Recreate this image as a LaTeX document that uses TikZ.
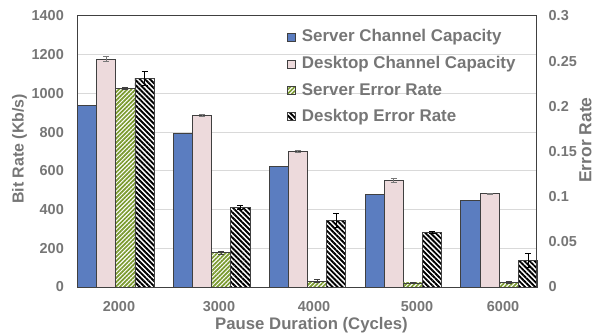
\documentclass[tikz,border=0pt]{standalone}
\usepackage{fontspec}
\setmainfont{Liberation Sans}
\usetikzlibrary{patterns.meta}
\definecolor{cblue}{RGB}{91,125,192}
\definecolor{cpink}{RGB}{237,218,220}
\definecolor{cgreen}{RGB}{122,154,46}
\definecolor{ctxt}{RGB}{118,118,118}
\definecolor{cgrid}{RGB}{217,217,217}
\definecolor{cframe}{RGB}{64,64,64}
\definecolor{cerr}{RGB}{120,120,120}
\tikzset{
  bluebar/.style={draw=cframe, line width=0.7bp, fill=cblue},
  pinkbar/.style={draw=cframe, line width=0.7bp, fill=cpink},
  greenbar/.style={draw=cframe, line width=0.7bp, preaction={fill=white},
    pattern={Lines[angle=45,distance=3pt,line width=1.7pt]}, pattern color=cgreen},
  blackbar/.style={draw=cframe, line width=0.7bp, preaction={fill=white},
    pattern={Lines[angle=-45,distance=3.6pt,line width=1.9pt]}, pattern color=black},
  errbar/.style={line width=0.8bp},
  ticklab/.style={text=ctxt, font=\bfseries\fontsize{14.5}{14.5}\selectfont, inner sep=0pt},
  titlelab/.style={text=ctxt, font=\bfseries\fontsize{16.8}{16.8}\selectfont, inner sep=0pt},
  leglab/.style={text=ctxt, font=\bfseries\fontsize{17}{17}\selectfont, inner sep=0pt, anchor=west},
  gridline/.style={draw=cgrid, line width=1bp},
}
\begin{document}
\begin{tikzpicture}[x=1bp,y=1bp]
\useasboundingbox (0,0) rectangle (597,335);
% grid
\foreach \k in {1,...,6} {
  \draw[gridline] (77.3,{48+\k*38.714}) -- (536.7,{48+\k*38.714});
}
% bars
\begin{scope}[shift={(0,48)}, y=0.193571bp]
\foreach \i/\b/\p/\pe/\g/\ge/\k/\ke in {
  0/940/1178/13/1026/6/1078/37,
  1/794/887/6/177/8/412/12,
  2/625/699/6/31/6/346/36,
  3/480/551/12/21/4/282/6,
  4/449/482/4/24/3/138/36} {
  \pgfmathsetmacro\s{77.3+95.85*\i}
  \pgfmathsetmacro\xp{\s+28.8}
  \pgfmathsetmacro\xg{\s+48}
  \pgfmathsetmacro\xk{\s+67.2}
  \draw[bluebar] (\s,0) rectangle ++(19.2,\b);
  \draw[pinkbar] (\s+19.2,0) rectangle ++(19.2,\p);
  \draw[greenbar] (\s+38.4,0) rectangle ++(19.2,\g);
  \draw[blackbar] (\s+57.6,0) rectangle ++(19.2,\k);
  \draw[errbar, cerr] (\xp,\p-\pe) -- (\xp,\p+\pe) (\xp-3,\p-\pe) -- (\xp+3,\p-\pe) (\xp-3,\p+\pe) -- (\xp+3,\p+\pe);
  \draw[errbar, cframe] (\xg,\g-\ge) -- (\xg,\g+\ge) (\xg-3,\g-\ge) -- (\xg+3,\g-\ge) (\xg-3,\g+\ge) -- (\xg+3,\g+\ge);
  \draw[errbar, black] (\xk,\k-\ke) -- (\xk,\k+\ke) (\xk-3,\k-\ke) -- (\xk+3,\k-\ke) (\xk-3,\k+\ke) -- (\xk+3,\k+\ke);
}
\end{scope}
% frame
\draw[cframe, line width=1bp] (77.3,48) rectangle (536.7,319);
% left ticks
\foreach \v [count=\n from 0] in {0,200,400,600,800,1000,1200,1400} {
  \node[ticklab, anchor=east] (l\n) at (64,{48+\n*38.714}) {\v};
}
% right ticks
\foreach \v [count=\n from 0] in {0,0.05,0.1,0.15,0.2,0.25,0.3} {
  \node[ticklab, anchor=west] (r\n) at (548.5,{48+\n*45.167}) {\v};
}
% category labels
\foreach \x/\v in {119/2000,219/3000,314/4000,417/5000,503/6000} {
  \node[ticklab] (c\v) at (\x,28) {\v};
}
% axis titles
\node[titlelab] (xt) at (311.5,9.7) {Pause Duration (Cycles)};
\node[titlelab, font=\bfseries\fontsize{16}{16}\selectfont, rotate=90] (ylt) at (19.5,186) {Bit Rate (Kb/s)};
\node[titlelab, font=\bfseries\fontsize{17.5}{17.5}\selectfont, rotate=90] (yrt) at (585.5,195) {Error Rate};
% legend
\draw[bluebar] (287,293.7) rectangle ++(8,8);
\node[leglab] (g1) at (301.7,297.7) {Server Channel Capacity};
\draw[pinkbar] (287,267) rectangle ++(8,8);
\node[leglab] (g2) at (301.7,271) {Desktop Channel Capacity};
\draw[greenbar] (287,241) rectangle ++(8,8);
\node[leglab] (g3) at (301.7,245) {Server Error Rate};
\draw[blackbar] (287,214.3) rectangle ++(8,8);
\node[leglab] (g4) at (301.7,218.3) {Desktop Error Rate};
\end{tikzpicture}
\end{document}
